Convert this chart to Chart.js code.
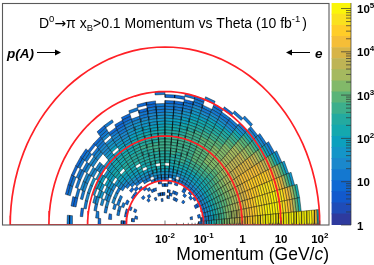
<!DOCTYPE html>
<html>
<head>
<meta charset="utf-8">
<script src="https://cdn.jsdelivr.net/npm/chart.js@4/dist/chart.umd.min.js"></script>
<style>
  html, body { margin: 0; padding: 0; background: #fff; overflow: hidden; }
  canvas { position: absolute; top: 0; }
  #polar { left: 0; }
  #palette { left: 330px; }
</style>
</head>
<body>
<canvas id="polar" width="374" height="265"></canvas>
<canvas id="palette" width="44" height="265"></canvas>
<script>
// =====================================================
// Data
// =====================================================
const FONT = '"Liberation Sans", Arial, sans-serif';

// momentum axis, GeV/c. radius on the plot is decades above the first tick
const momentumTicks = [0.01, 0.1, 1, 10, 100];
const momentumLabels = [["10", "-2"], ["10", "-1"], ["1", ""], ["10", ""], ["10", "2"]];
const arcMomenta = [0.1, 1, 10, 100];

// palette contour edges (counts) and one colour per band
const bandEdges = [1, 1.8, 3.25, 5.9, 10.6, 19, 34.5, 62, 112, 203, 366, 660, 1190, 2150, 3880, 7000, 12600, 22800, 41100, 74200, 134000];
const bandColors = ["#2e3a9e", "#1f4cb8", "#1259cd", "#0f68d3", "#1478d0", "#1a88cc", "#1495c8", "#0ca0be", "#14a8ae", "#23aaa0",
  "#3caf8c", "#5ab478", "#82b969", "#a5b95f", "#beb455", "#d7b446", "#f5be37", "#ffcd28", "#fae11e", "#faf50a"];
const paletteTicks = [1, 10, 100, 1000, 10000, 100000];
const paletteLabels = [["1", ""], ["10", ""], ["10", "2"], ["10", "3"], ["10", "4"], ["10", "5"]];

const THETA_BIN = 5;       // degrees per row
const BINS_PER_DECADE = 15;

// one string per theta bin (row 0 = 0-5 deg), one char per momentum bin,
// char = palette band 0-9,a-j, "." = empty
const levelRows = [
  ".............3456789aabccddeeffgghhiiijjjjjjjjjjjjjjjjjjjig8",
  "..............3456789aabccddeeffgghhiiijjjjjjiihgfdb8",
  "..........3..3.456789aabccddeeffgghhiiiiiijjiiihgfdb8",
  "...............456789aabbccddeeffgghhhiiiiiihggfdb96",
  "...............456789aabbccddeeffgghhhhhhhhggfedb96",
  ".............23456789aabbccddeeffggggggggffeedb975",
  "...............456789aabbccddeeeffffffffeedcb9754",
  "..............34567889aabbccddeeeeeeeeddccba8654",
  ".............3.45678899aabbccdddddddddccbba8654",
  "..........3...34567789aabbccccccccccbbaa98654..4",
  "............3..4567789aabbcccccccbbaa9986544..4",
  ".............334567789aabbbbbbbbbbaa99876544.3",
  ".........3.....4567789aabbbbbbbbbaa9988765443",
  ".........3.3...456778899aaaaaaaaaa998876544..4",
  "...........3..34.56789aaaaaaaaaaa998877665443",
  "..........3....4567889999aaaaaa998877665443.4",
  ".........3.3..3.45678899aaaaaa998877665443.3",
  ".............3.45678.9999aaaaa998877665443.3",
  "..........3..3.4567899999aaaa998877665444...4",
  "........3.3...345678.9999aaa99887766554433",
  "..........3....45678899999aa998877665443.3",
  "............3..4.5678899999a9988776654..4",
  ".........3..3...4567.8899999988776655433",
  ".............3..456788.9999887766554433",
  "...........3..3..456778899998877665543..4",
  "..........3....3.45677889988877.7665.5443",
  "............3...3.456778.88887766555443",
  "...............3.3.456778887766...554.3",
  "...............3....4566.7776.555.55.443",
  ".....................4.5667.766.55.54.43",
  "................3..4.5.566.677.6.55.44.3",
  "............3.3..4.4.5.55.66.6.5.55.4.43",
  "...............3..4.4..5.5.55..5.4.4..43",
  "...........3...3..4....4...4...4...33",
  "............3........3....4.....3",
  "...............33........3..........44"
];

// =====================================================
// Helpers
// =====================================================
function radiusOf(momentum){
  return Math.log10(momentum) + 2;
}

function polar(r, deg){
  const a = deg * Math.PI / 180;
  return { x: r * Math.cos(a), y: r * Math.sin(a) };
}

function cellDataset(row, bin, level){
  const t0 = row * THETA_BIN, t1 = t0 + THETA_BIN;
  const r0 = bin / BINS_PER_DECADE, r1 = (bin + 1) / BINS_PER_DECADE;
  const corners = [polar(r0, t0), polar(r1, t0), polar(r1, t1), polar(r0, t1)];
  corners.push(corners[0]);
  return {
    data: corners,
    showLine: true,
    fill: "shape",
    backgroundColor: bandColors[level],
    borderColor: "rgba(0,0,0,0.62)",
    borderWidth: 0.65,
    pointRadius: 0,
    tension: 0
  };
}

function arcDataset(momentum){
  const r = radiusOf(momentum);
  const pts = [];
  for(let d = 0; d <= 180; d += 3) pts.push(polar(r, d));
  pts.push(pts[0]);
  return {
    data: pts,
    showLine: true,
    fill: false,
    borderColor: "#ff2026",
    borderWidth: 1.7,
    pointRadius: 0,
    tension: 0
  };
}

// draws text + smaller raised/lowered pieces as one line
function drawRuns(ctx, x, y, runs, align){
  const total = runs.reduce((w, r) => {
    ctx.font = r.font;
    return w + ctx.measureText(r.text).width + (r.gap || 0);
  }, 0);
  let cx = align === "center" ? x - total / 2 : align === "right" ? x - total : x;
  ctx.textAlign = "left";
  ctx.textBaseline = "alphabetic";
  for(const r of runs){
    ctx.font = r.font;
    ctx.fillText(r.text, cx, y + (r.dy || 0));
    cx += ctx.measureText(r.text).width + (r.gap || 0);
  }
}

function drawArrow(ctx, x0, x1, y){
  const dir = x1 > x0 ? 1 : -1;
  ctx.strokeStyle = "#000";
  ctx.lineWidth = 1;
  ctx.beginPath();
  ctx.moveTo(x0, y);
  ctx.lineTo(x1 - dir * 5, y);
  ctx.stroke();
  ctx.beginPath();
  ctx.moveTo(x1, y);
  ctx.lineTo(x1 - dir * 6, y - 3);
  ctx.lineTo(x1 - dir * 6, y + 3);
  ctx.closePath();
  ctx.fill();
}

// =====================================================
// Polar histogram
// =====================================================
const cellSets = [];
levelRows.forEach((text, row) => {
  [...text].forEach((ch, bin) => {
    if(ch !== ".") cellSets.push(cellDataset(row, bin, parseInt(ch, 20)));
  });
});

const polarDecor = {
  id: "polarDecor",
  afterDraw(chart){
    const { ctx, chartArea: a, scales: { x } } = chart;
    ctx.save();
    ctx.fillStyle = "#000";

    // frame
    ctx.strokeStyle = "#5a5a5a";
    ctx.lineWidth = 1.1;
    ctx.strokeRect(a.left, a.top, a.right - a.left, a.bottom - a.top);

    // momentum axis ticks point up into the frame
    ctx.strokeStyle = "#444";
    ctx.lineWidth = 0.7;
    ctx.beginPath();
    momentumTicks.forEach((m, n) => {
      const px = x.getPixelForValue(radiusOf(m));
      ctx.moveTo(px, a.bottom);
      ctx.lineTo(px, a.bottom - 4.5);
      if(n === momentumTicks.length - 1) return;
      for(let k = 2; k < 10; k++){
        const mx = x.getPixelForValue(radiusOf(m * k));
        ctx.moveTo(mx, a.bottom);
        ctx.lineTo(mx, a.bottom - 2.2);
      }
    });
    ctx.stroke();

    momentumTicks.forEach((m, n) => {
      const [base, sup] = momentumLabels[n];
      const runs = [{ text: base, font: `bold 11.5px ${FONT}` }];
      if(sup) runs.push({ text: sup, font: `bold 8px ${FONT}`, dy: -5 });
      drawRuns(ctx, x.getPixelForValue(radiusOf(m)), 243, runs, "center");
    });

    // axis title
    drawRuns(ctx, 329, 260, [
      { text: "Momentum (GeV/", font: `17.5px ${FONT}` },
      { text: "c", font: `italic 17.5px ${FONT}` },
      { text: ")", font: `17.5px ${FONT}` }
    ], "right");

    // chart title
    const t = `14px ${FONT}`, s = `9.5px ${FONT}`;
    drawRuns(ctx, 39, 28, [
      { text: "D", font: t },
      { text: "0", font: s, dy: -6 },
      { text: "\u2192", font: `14px "DejaVu Sans"` },
      { text: "\u03c0 x", font: t },
      { text: "B", font: s, dy: 3 },
      { text: ">0.1 Momentum vs Theta (10 fb", font: t },
      { text: "-1", font: s, dy: -6, gap: 2 },
      { text: ")", font: t }
    ]);

    // beam direction marks
    drawRuns(ctx, 7, 57.5, [{ text: "p(A)", font: `italic bold 13.5px ${FONT}` }]);
    drawArrow(ctx, 37, 61, 52.5);
    drawRuns(ctx, 315, 57.5, [{ text: "e", font: `italic bold 13.5px ${FONT}` }]);
    drawArrow(ctx, 310, 286, 52.5);
    ctx.restore();
  }
};

new Chart(document.getElementById("polar"), {
  type: "scatter",
  data: { datasets: [...arcMomenta.map(arcDataset), ...cellSets] },
  options: {
    responsive: false,
    animation: false,
    devicePixelRatio: 1,
    events: [],
    layout: { padding: { left: 2.5, right: 45, top: 3.5, bottom: 40 } },
    plugins: { legend: { display: false }, tooltip: { enabled: false } },
    scales: {
      x: { display: false, type: "linear", min: -4.199, max: 4.238 },
      y: { display: false, type: "linear", min: 0, max: 4.978 }
    }
  },
  plugins: [polarDecor]
});

// =====================================================
// Palette bar
// =====================================================
const paletteDecor = {
  id: "paletteDecor",
  afterDraw(chart){
    const { ctx, chartArea: a, scales: { y } } = chart;
    ctx.save();
    ctx.strokeStyle = "#333";
    ctx.fillStyle = "#000";
    ctx.lineWidth = 0.7;
    ctx.beginPath();
    ctx.moveTo(a.right, a.top);
    ctx.lineTo(a.right, a.bottom);
    paletteTicks.forEach(v => {
      const py = y.getPixelForValue(v);
      ctx.moveTo(a.right, py);
      ctx.lineTo(a.right - 10, py);
      for(let k = 2; k < 10; k++){
        const m = v * k;
        if(m > y.max) break;
        const my = y.getPixelForValue(m);
        ctx.moveTo(a.right, my);
        ctx.lineTo(a.right - 5, my);
      }
    });
    ctx.stroke();

    paletteTicks.forEach((v, n) => {
      const [base, sup] = paletteLabels[n];
      const runs = [{ text: base, font: `bold 11.5px ${FONT}` }];
      if(sup) runs.push({ text: sup, font: `bold 8px ${FONT}`, dy: -5 });
      drawRuns(ctx, a.right + 6, y.getPixelForValue(v) + 4.5, runs);
    });
    ctx.restore();
  }
};

new Chart(document.getElementById("palette"), {
  type: "bar",
  data: {
    labels: ["counts"],
    datasets: bandColors.map((c, n) => ({
      data: [[bandEdges[n], bandEdges[n + 1]]],
      backgroundColor: c,
      borderWidth: 0,
      barPercentage: 1,
      categoryPercentage: 1,
      grouped: false
    }))
  },
  options: {
    responsive: false,
    animation: false,
    devicePixelRatio: 1,
    events: [],
    layout: { padding: { left: 1.5, right: 23, top: 3, bottom: 40 } },
    plugins: { legend: { display: false }, tooltip: { enabled: false } },
    scales: {
      x: { display: false },
      y: { display: false, type: "logarithmic", min: 1, max: 134000 }
    }
  },
  plugins: [paletteDecor]
});
</script>
</body>
</html>
